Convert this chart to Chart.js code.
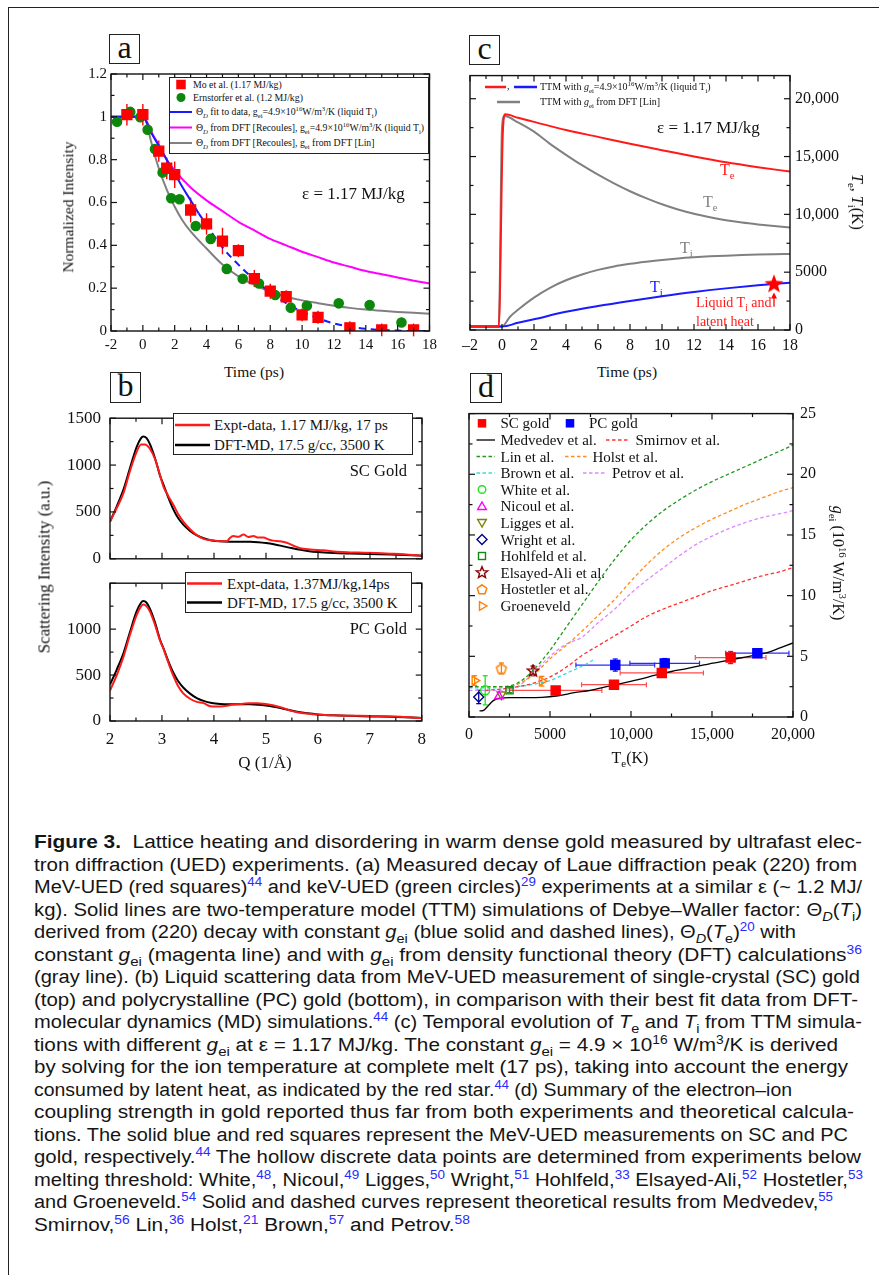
<!DOCTYPE html>
<html>
<head>
<meta charset="utf-8">
<title>Figure 3 - warm dense gold</title>
<script src="https://cdn.jsdelivr.net/npm/chart.js@4.4.1/dist/chart.umd.min.js"></script>
<style>
  html, body { margin: 0; padding: 0; background: #fff; }
  body { width: 879px; height: 1275px; position: relative; overflow: hidden; font-family: "Liberation Serif", serif; color: #111; }
  canvas { position: absolute; }
  .t { position: absolute; white-space: nowrap; line-height: 1; }
  .t sub, .t sup { font-size: 68%; line-height: 0; }
  .box { position: absolute; border: 1.2px solid #222; box-sizing: border-box; }
  .plabel { position: absolute; border: 1.6px solid #222; box-sizing: border-box; font-size: 32px; line-height: 24px; text-align: center; }
  #frame { position: absolute; left: 8px; top: 7px; width: 1000px; height: 1400px; border: 1.6px solid #222; }
  #overlay { position: absolute; left: 0; top: 0; }
  #cap { position: absolute; left: 34px; top: 831px; font-family: "Liberation Sans", sans-serif; font-size: 18px; line-height: 22.5px; color: #151515; }
  #cap .ln { display: block; width: max-content; white-space: nowrap; transform-origin: 0 0; }
  #cap sub { font-size: 13px; line-height: 0; }
  #cap sup { font-size: 12px; line-height: 0; }
  #cap .r { color: #2a2aff; font-size: 12px; position: relative; top: -7px; line-height: 0; }
</style>
</head>
<body>
<div id="frame"></div>

<div class="plabel" style="left:109px;top:34px;width:31px;height:30px;">a</div>
<div class="plabel" style="left:110px;top:372px;width:31px;height:31px;">b</div>
<div class="plabel" style="left:469px;top:35px;width:31px;height:30px;">c</div>
<div class="plabel" style="left:470px;top:373px;width:32px;height:30px;">d</div>

<div id="cap">
<span class="ln"><b>Figure 3.</b>&nbsp; Lattice heating and disordering in warm dense gold measured by ultrafast elec-</span>
<span class="ln">tron diffraction (UED) experiments. (a) Measured decay of Laue diffraction peak (220) from</span>
<span class="ln">MeV-UED (red squares)<span class="r">44</span> and keV-UED (green circles)<span class="r">29</span> experiments at a similar ε (~ 1.2 MJ/</span>
<span class="ln">kg). Solid lines are two-temperature model (TTM) simulations of Debye–Waller factor: Θ<sub><i>D</i></sub>(<i>T</i><sub>i</sub>)</span>
<span class="ln">derived from (220) decay with constant <i>g</i><sub>ei</sub> (blue solid and dashed lines), Θ<sub><i>D</i></sub>(<i>T</i><sub>e</sub>)<span class="r">20</span> with</span>
<span class="ln">constant <i>g</i><sub>ei</sub> (magenta line) and with <i>g</i><sub>ei</sub> from density functional theory (DFT) calculations<span class="r">36</span></span>
<span class="ln">(gray line). (b) Liquid scattering data from MeV-UED measurement of single-crystal (SC) gold</span>
<span class="ln">(top) and polycrystalline (PC) gold (bottom), in comparison with their best fit data from DFT-</span>
<span class="ln">molecular dynamics (MD) simulations.<span class="r">44</span> (c) Temporal evolution of <i>T</i><sub>e</sub> and <i>T</i><sub>i</sub> from TTM simula-</span>
<span class="ln">tions with different <i>g</i><sub>ei</sub> at ε = 1.17 MJ/kg. The constant <i>g</i><sub>ei</sub> = 4.9 × 10<sup>16</sup> W/m<sup>3</sup>/K is derived</span>
<span class="ln">by solving for the ion temperature at complete melt (17 ps), taking into account the energy</span>
<span class="ln">consumed by latent heat, as indicated by the red star.<span class="r">44</span> (d) Summary of the electron–ion</span>
<span class="ln">coupling strength in gold reported thus far from both experiments and theoretical calcula-</span>
<span class="ln">tions. The solid blue and red squares represent the MeV-UED measurements on SC and PC</span>
<span class="ln">gold, respectively.<span class="r">44</span> The hollow discrete data points are determined from experiments below</span>
<span class="ln">melting threshold: White,<span class="r">48</span>, Nicoul,<span class="r">49</span> Ligges,<span class="r">50</span> Wright,<span class="r">51</span> Hohlfeld,<span class="r">33</span> Elsayed-Ali,<span class="r">52</span> Hostetler,<span class="r">53</span></span>
<span class="ln">and Groeneveld.<span class="r">54</span> Solid and dashed curves represent theoretical results from Medvedev,<span class="r">55</span></span>
<span class="ln">Smirnov,<span class="r">56</span> Lin,<span class="r">36</span> Holst,<span class="r">21</span> Brown,<span class="r">57</span> and Petrov.<span class="r">58</span></span>
</div>

<script>
// ---------------- panel a : normalized (220) intensity ----------------
const aTicksX = [-2, 0, 2, 4, 6, 8, 10, 12, 14, 16, 18];
const aMinorX = [-1, 1, 3, 5, 7, 9, 11, 13, 15, 17];
const aTicksY = [0, 0.2, 0.4, 0.6, 0.8, 1, 1.2];
const aMinorY = [0.1, 0.3, 0.5, 0.7, 0.9, 1.1];

const moTime = [-1, 0, 1, 1.5, 2, 3, 4, 5, 6, 7, 8, 9, 10, 11, 13, 15, 17];
const moInt  = [1.01, 1.01, 0.84, 0.76, 0.73, 0.565, 0.50, 0.42, 0.375, 0.245, 0.186, 0.16, 0.075, 0.064, 0.015, 0.005, 0.005];
const moErr  = [0.05, 0.05, 0.05, 0.05, 0.062, 0.058, 0.05, 0.062, 0.03, 0.04, 0.035, 0.03, 0.03, 0.03, 0.03, 0.03, 0.03];

const ernTime = [-1.62, -0.79, -0.16, 0.30, 0.76, 1.24, 1.78, 2.30, 3.32, 4.26, 5.27, 6.27, 7.29, 8.31, 9.29, 10.3, 12.3, 14.24, 16.24];
const ernInt  = [0.977, 1.023, 0.998, 0.94, 0.85, 0.74, 0.62, 0.615, 0.49, 0.43, 0.29, 0.244, 0.222, 0.168, 0.109, 0.118, 0.129, 0.121, 0.04];

const fitTime = [-2, 0, 0.2, 0.5, 1, 1.5, 2, 2.5, 3, 3.5];
const fitInt  = [1, 1, 0.98, 0.93, 0.865, 0.80, 0.735, 0.67, 0.61, 0.55];
const fitTimeExt = [3.5, 4, 5, 6, 7, 8, 9, 10, 11, 12, 13, 14, 15, 16, 17, 18];
const fitIntExt  = [0.55, 0.495, 0.39, 0.31, 0.24, 0.18, 0.13, 0.09, 0.06, 0.035, 0.02, 0.01, 0.005, 0.002, 0, 0];

const recTime = [-2, 0, 0.3, 0.6, 1, 1.5, 2, 3, 4, 5, 6, 7, 8, 9, 10, 11, 12, 13, 14, 15, 16, 17, 18];
const recInt  = [1, 1, 0.97, 0.92, 0.87, 0.80, 0.75, 0.67, 0.61, 0.56, 0.51, 0.47, 0.43, 0.40, 0.37, 0.345, 0.32, 0.30, 0.28, 0.265, 0.25, 0.235, 0.222];

const linTime = [-2, 0, 0.2, 0.5, 1, 1.5, 2, 2.5, 3, 4, 5, 6, 7, 8, 9, 10, 11, 12, 13, 14, 15, 16, 17, 18];
const linInt  = [1, 1, 0.98, 0.89, 0.76, 0.66, 0.58, 0.515, 0.465, 0.385, 0.31, 0.255, 0.215, 0.183, 0.16, 0.143, 0.13, 0.118, 0.108, 0.10, 0.094, 0.089, 0.085, 0.081];

// ---------------- panel b : liquid scattering ----------------
const bTicksX = [2, 3, 4, 5, 6, 7, 8];
const bMinorX = [2.5, 3.5, 4.5, 5.5, 6.5, 7.5];
const bTicksY = [0, 500, 1000, 1500];
const bTicksYLow = [0, 500, 1000];
const bMinorY = [250, 750, 1250];

const scQ = [2.00, 2.13, 2.26, 2.38, 2.51, 2.60, 2.67, 2.77, 2.87, 2.96, 3.03, 3.12, 3.22, 3.31, 3.41, 3.54, 3.67, 3.80, 3.96, 4.12, 4.25, 4.30, 4.37, 4.47, 4.57, 4.66, 4.76, 4.85, 4.95, 5.05, 5.14, 5.27, 5.40, 5.53, 5.66, 5.85, 6.11, 6.36, 6.62, 6.88, 7.13, 7.39, 7.65, 8.00];
const scExpt = [397, 542, 703, 929, 1139, 1219, 1219, 1171, 1058, 897, 768, 671, 574, 477, 397, 316, 252, 213, 197, 187, 187, 219, 242, 235, 258, 232, 242, 226, 226, 206, 194, 187, 171, 139, 113, 100, 90, 74, 68, 65, 61, 55, 48, 32];

const pcQ = [2.00, 2.13, 2.26, 2.38, 2.51, 2.60, 2.64, 2.70, 2.77, 2.87, 2.96, 3.03, 3.12, 3.22, 3.31, 3.41, 3.54, 3.67, 3.80, 3.93, 4.05, 4.18, 4.30, 4.44, 4.57, 4.69, 4.82, 4.95, 5.08, 5.21, 5.34, 5.47, 5.60, 5.72, 5.90, 6.04, 6.30, 6.56, 7.00, 7.27, 7.60, 8.00];
const pcExpt = [332, 500, 700, 930, 1150, 1250, 1268, 1250, 1190, 1040, 880, 784, 640, 490, 380, 300, 242, 208, 195, 161, 157, 161, 172, 181, 189, 194, 192, 187, 178, 161, 140, 113, 95, 84, 74, 68, 62, 58, 55, 52, 45, 32];

const dftQ = [2.00, 2.13, 2.26, 2.38, 2.51, 2.60, 2.64, 2.70, 2.77, 2.87, 2.96, 3.03, 3.12, 3.22, 3.31, 3.41, 3.54, 3.67, 3.80, 3.96, 4.12, 4.30, 4.50, 4.70, 4.85, 5.00, 5.15, 5.30, 5.45, 5.60, 5.80, 6.00, 6.30, 6.60, 7.00, 7.40, 7.80, 8.00];
const dftI = [397, 560, 740, 960, 1190, 1290, 1306, 1290, 1220, 1065, 890, 790, 655, 525, 435, 365, 298, 249, 219, 196, 186, 183, 183, 182, 177, 168, 155, 138, 119, 101, 84, 72, 62, 56, 50, 45, 38, 33];

// ---------------- panel c : TTM temperatures ----------------
const cTicksX = [-2, 0, 2, 4, 6, 8, 10, 12, 14, 16, 18];
const cMinorX = [-1, 1, 3, 5, 7, 9, 11, 13, 15, 17];
const cTicksY = [0, 5000, 10000, 15000, 20000];
const cMinorY = [2500, 7500, 12500, 17500];

const teTime  = [-2, -0.2, 0.05, 0.2, 1, 2, 4, 6, 8, 10, 12, 14, 16, 18];
const teConst = [300, 300, 17000, 18650, 18350, 18000, 17300, 16700, 16100, 15550, 15000, 14500, 14080, 13700];
const tiTime  = [-2, 0, 1, 2, 4, 6, 8, 10, 12, 14, 16, 18];
const tiConst = [300, 300, 620, 930, 1570, 2070, 2510, 2920, 3290, 3600, 3860, 4086];

const teDftTime = [-2, -0.2, 0, 0.15, 1, 2, 3, 4, 5, 6, 7, 8, 9, 10, 11, 12, 13, 14, 15, 16, 17, 18];
const teDft     = [300, 300, 17500, 18500, 17950, 17150, 16100, 15150, 14250, 13430, 12680, 12000, 11400, 10870, 10420, 10050, 9750, 9490, 9290, 9130, 8990, 8860];
const tiDftTime = [-2, 0, 0.5, 1, 2, 3, 4, 5, 6, 7, 8, 9, 10, 11, 12, 13, 14, 15, 16, 17, 18];
const tiDft     = [300, 300, 1150, 1750, 2800, 3650, 4300, 4800, 5200, 5500, 5720, 5900, 6060, 6190, 6290, 6370, 6430, 6480, 6520, 6550, 6570];

const meltTime = [17];
const meltTi   = [3950];

// ---------------- panel d : electron-ion coupling ----------------
const dTicksX = [0, 5000, 10000, 15000, 20000];
const dMinorX = [2500, 7500, 12500, 17500];
const dTicksY = [0, 5, 10, 15, 20, 25];
const dMinorY = [2.5, 7.5, 12.5, 17.5, 22.5];

const scTe = [5350, 8950, 11900, 16150];
const scG = [2.19, 2.66, 3.63, 4.9];
const scTeErr = [2850, 2000, 2570, 2180];
const scGErr = [0.12, 0.2, 0.35, 0.5];

const pcTe = [9030, 12080, 17800];
const pcG = [4.28, 4.42, 5.26];
const pcTeErr = [2430, 2150, 1950];
const pcGErr = [0.5, 0.4, 0.3];

const whiteTe = [1000], whiteG = [2.2], whiteErr = [1.2];
const nicoulTe = [1850], nicoulG = [1.7];
const liggesTe = [2000], liggesG = [1.85];
const wrightTe = [600], wrightG = [1.65], wrightErr = [0.55];
const hohlfeldTe = [2500], hohlfeldG = [2.2], hohlfeldErr = [0.2];
const elsayedTe = [3950], elsayedG = [3.8], elsayedErr = [0.4];
const hostetlerTe = [2000], hostetlerG = [4.0], hostetlerErr = [0.45];
const groenTe = [350, 4500], groenG = [3.0, 2.95], groenErr = [0.4, 0.4];

const medTe = [650, 900, 1200, 1500, 1900, 2500, 3500, 4500, 5500, 6500, 7500, 8500, 9500, 10500, 11500, 12500, 13500, 14500, 15500, 16500, 17500, 18500, 19200, 20000];
const medG  = [0.5, 0.55, 0.95, 1.35, 1.55, 1.6, 1.6, 1.62, 1.75, 2.0, 2.2, 2.5, 2.8, 3.1, 3.45, 3.75, 4.0, 4.3, 4.55, 4.8, 5.05, 5.35, 5.7, 6.1];
const thTe = [0, 1000, 2000, 3000, 4000, 5000, 6000, 7000, 8000, 9000, 10000, 11000, 12000, 13000, 14000, 15000, 16000, 17000, 18000, 19000, 20000];
const linG    = [2.5, 2.5, 2.5, 2.8, 3.9, 5.5, 7.4, 9.3, 11.2, 13.0, 14.6, 15.9, 17.0, 17.9, 18.7, 19.4, 20.0, 20.6, 21.2, 21.8, 22.4];
const holstG  = [2.5, 2.5, 2.5, 2.7, 3.5, 4.8, 5.9, 7.1, 8.4, 9.7, 11.2, 12.6, 13.8, 14.8, 15.6, 16.3, 16.9, 17.5, 18.0, 18.5, 18.9];
const petrovG = [2.2, 2.2, 2.2, 2.5, 3.7, 5.0, 6.0, 6.6, 7.8, 8.9, 10.2, 11.3, 12.3, 13.3, 14.2, 14.9, 15.5, 16.0, 16.4, 16.7, 17.0];
const smirnovTe = [1000, 2000, 3000, 4000, 5000, 6000, 7000, 8000, 9000, 10000, 11000, 12000, 13000, 14000, 15000, 16000, 17000, 18000, 19000, 20000];
const smirnovG  = [2.2, 2.3, 2.5, 2.8, 3.3, 4.1, 5.1, 5.9, 6.7, 7.5, 8.3, 8.9, 9.4, 9.9, 10.4, 10.8, 11.2, 11.6, 11.9, 12.3];
const brownTe = [0, 1000, 2000, 3000, 4000, 5000, 6000, 7000, 7800];
const brownG  = [2.4, 2.4, 2.4, 2.5, 2.7, 3.0, 3.6, 4.2, 4.8];

// ---------------- helpers ----------------
Chart.defaults.font.family = 'Liberation Serif';
const pts = (xs, ys) => xs.map((x, i) => ({ x: x, y: ys[i] }));

function curve(xs, ys, color, width, dash) {
  return { data: pts(xs, ys), showLine: true, borderColor: color, backgroundColor: color,
    borderWidth: width, borderDash: dash || [], pointRadius: 0, tension: 0.4, cubicInterpolationMode: 'monotone' };
}
function marks(xs, ys, style, color, fill, r, extra) {
  return Object.assign({ data: pts(xs, ys), showLine: false, pointStyle: style, pointRadius: r,
    borderColor: color, pointBorderColor: color, pointBackgroundColor: fill, backgroundColor: fill, pointBorderWidth: 1.4 }, extra || {});
}
function shape(size, draw) {
  const c = document.createElement('canvas');
  c.width = c.height = size;
  draw(c.getContext('2d'), size / 2);
  return c;
}
function starPath(g, cx, cy, R, r) {
  g.beginPath();
  for (let i = 0; i < 10; i++) {
    const a = -Math.PI / 2 + i * Math.PI / 5, rr = i % 2 ? r : R;
    g.lineTo(cx + rr * Math.cos(a), cy + rr * Math.sin(a));
  }
  g.closePath();
}
function polyPath(g, cx, cy, R, n) {
  g.beginPath();
  for (let i = 0; i < n; i++) {
    const a = -Math.PI / 2 + i * 2 * Math.PI / n;
    g.lineTo(cx + R * Math.cos(a), cy + R * Math.sin(a));
  }
  g.closePath();
}
const redStar = shape(22, (g, c) => { starPath(g, c, c, 10, 4.2); g.fillStyle = '#ff0000'; g.fill(); });
const hollowStar = shape(14, (g, c) => { starPath(g, c, c, 6, 2.6); g.strokeStyle = '#8b0000'; g.lineWidth = 1.4; g.stroke(); });
const hollowPenta = shape(14, (g, c) => { polyPath(g, c, c + 0.5, 5.2, 5); g.strokeStyle = '#ff7f00'; g.lineWidth = 1.5; g.stroke(); });

function axis(pos, min, max, ticks, o) {
  const horiz = pos === 'top' || pos === 'bottom';
  return {
    type: 'linear', position: pos, min: min, max: max,
    afterBuildTicks: s => { s.ticks = ticks.map(v => ({ value: v })); },
    afterFit: s => { if (horiz) s.height = o.size; else s.width = o.size; },
    grid: { display: false, drawTicks: false },
    border: { display: false },
    ticks: {
      display: o.labels !== false, autoSkip: false, maxRotation: 0, minRotation: 0,
      padding: o.pad || 5, color: '#111',
      font: { family: 'Liberation Serif', size: o.font || 15 },
      callback: o.fmt || (v => String(v))
    }
  };
}
const thousands = v => v >= 10000 ? v.toLocaleString('en-US') : String(v);
const dashMinus = v => v < 0 ? '\u2013' + (-v) : String(v);

// frame around the plot area with inward major / minor ticks on all four sides
const framePlugin = {
  id: 'frame',
  afterDraw(chart, args, o) {
    const { ctx, chartArea: a } = chart;
    const xs = chart.scales.x, ys = chart.scales.y;
    ctx.save();
    ctx.strokeStyle = '#111';
    ctx.lineWidth = 1.4;
    ctx.strokeRect(a.left, a.top, a.right - a.left, a.bottom - a.top);
    ctx.lineWidth = 1.2;
    const seg = (x1, y1, x2, y2) => { ctx.beginPath(); ctx.moveTo(x1, y1); ctx.lineTo(x2, y2); ctx.stroke(); };
    const doX = (vals, len) => (vals || []).forEach(v => {
      const p = xs.getPixelForValue(v);
      seg(p, a.bottom, p, a.bottom - len); seg(p, a.top, p, a.top + len);
    });
    const doY = (vals, len) => (vals || []).forEach(v => {
      const p = ys.getPixelForValue(v);
      seg(a.left, p, a.left + len, p); seg(a.right, p, a.right - len, p);
    });
    doX(o.xMajor, 6); doX(o.xMinor, 3.5);
    doY(o.yMajor, 6); doY(o.yMinor, 3.5);
    ctx.restore();
  }
};

// error bars taken from errX / errY arrays on a dataset
const errPlugin = {
  id: 'errbars',
  beforeDatasetsDraw(chart) {
    const ctx = chart.ctx, xs = chart.scales.x, ys = chart.scales.y;
    chart.data.datasets.forEach(ds => {
      if (!ds.errX && !ds.errY) return;
      ctx.save();
      ctx.lineWidth = ds.errWidth || 1.3;
      const seg = (x1, y1, x2, y2) => { ctx.beginPath(); ctx.moveTo(x1, y1); ctx.lineTo(x2, y2); ctx.stroke(); };
      const cap = ds.errCap || 0;
      ds.data.forEach((p, i) => {
        const px = xs.getPixelForValue(p.x), py = ys.getPixelForValue(p.y);
        if (ds.errX) {
          ctx.strokeStyle = ds.errColorX || ds.borderColor;
          const x1 = xs.getPixelForValue(p.x - ds.errX[i]), x2 = xs.getPixelForValue(p.x + ds.errX[i]);
          seg(x1, py, x2, py);
          if (cap) { seg(x1, py - cap, x1, py + cap); seg(x2, py - cap, x2, py + cap); }
        }
        if (ds.errY) {
          ctx.strokeStyle = ds.errColorY || ds.borderColor;
          const y1 = ys.getPixelForValue(p.y - ds.errY[i]), y2 = ys.getPixelForValue(p.y + ds.errY[i]);
          seg(px, y1, px, y2);
          if (cap) { seg(px - cap, y1, px + cap, y1); seg(px - cap, y2, px + cap, y2); }
        }
      });
      ctx.restore();
    });
  }
};

// small upward arrow in panel c pointing at the melt point
const arrowPlugin = {
  id: 'arrow',
  afterDatasetsDraw(chart, args, o) {
    if (!o || o.x === undefined) return;
    const ctx = chart.ctx, xs = chart.scales.x, ys = chart.scales.y;
    const px = xs.getPixelForValue(o.x), y1 = ys.getPixelForValue(o.from), y2 = ys.getPixelForValue(o.to);
    ctx.save();
    ctx.strokeStyle = o.color; ctx.fillStyle = o.color; ctx.lineWidth = 1.3;
    ctx.beginPath(); ctx.moveTo(px, y1); ctx.lineTo(px, y2 + 4); ctx.stroke();
    ctx.beginPath(); ctx.moveTo(px, y2); ctx.lineTo(px - 3, y2 + 6); ctx.lineTo(px + 3, y2 + 6); ctx.closePath(); ctx.fill();
    ctx.restore();
  }
};

function makeChart(plot, m, scales, datasets, pluginOpts) {
  const c = document.createElement('canvas');
  const w = plot.r - plot.l + m.L + m.R, h = plot.b - plot.t + m.T + m.B;
  c.width = w; c.height = h;
  c.style.left = (plot.l - m.L) + 'px'; c.style.top = (plot.t - m.T) + 'px';
  c.style.width = w + 'px'; c.style.height = h + 'px';
  document.body.appendChild(c);
  const yRight = scales.y.position === 'right';
  return new Chart(c, {
    type: 'scatter',
    data: { datasets: datasets },
    options: {
      responsive: false, animation: false, devicePixelRatio: 1, events: [],
      layout: { padding: { top: m.T, bottom: 0, left: yRight ? m.L : 0, right: yRight ? 0 : m.R } },
      scales: scales,
      plugins: Object.assign({ legend: { display: false }, tooltip: { enabled: false } }, pluginOpts)
    },
    plugins: [errPlugin, framePlugin, arrowPlugin]
  });
}

// ---------------- panel a ----------------
makeChart({ l: 111, t: 73, r: 430, b: 331 }, { L: 50, T: 12, R: 12, B: 30 }, {
  x: axis('bottom', -2, 18, aTicksX, { size: 30, font: 15, pad: 5 }),
  y: axis('left', 0, 1.2, aTicksY, { size: 50, font: 15, pad: 4 })
}, [
  marks(moTime, moInt, 'rect', '#ff0000', '#ff0000', 7, { errY: moErr, errWidth: 1.4 }),
  marks(ernTime, ernInt, 'circle', '#0b870b', '#0b870b', 4.6),
  curve(fitTime, fitInt, '#1a1aff', 2),
  curve(fitTimeExt, fitIntExt, '#1a1aff', 2, [7, 5]),
  curve(recTime, recInt, '#ff00ff', 2),
  curve(linTime, linInt, '#808080', 2)
], { frame: { xMajor: aTicksX, xMinor: aMinorX, yMajor: aTicksY, yMinor: aMinorY } });

// ---------------- panel b (two stacked charts) ----------------
makeChart({ l: 110, t: 411, r: 422, b: 566 }, { L: 60, T: 12, R: 12, B: 12 }, {
  x: axis('bottom', 2, 8, bTicksX, { size: 12, labels: false }),
  y: axis('left', 0, 1500, bTicksY, { size: 60, font: 17, pad: 9 })
}, [
  curve(scQ, scExpt, '#ff1a1a', 2),
  curve(dftQ, dftI, '#000000', 2)
], { frame: { xMajor: bTicksX, xMinor: bMinorX, yMajor: bTicksY, yMinor: bMinorY } });

makeChart({ l: 110, t: 566, r: 422, b: 721 }, { L: 60, T: 2, R: 12, B: 32 }, {
  x: axis('bottom', 2, 8, bTicksX, { size: 32, font: 17, pad: 8 }),
  y: axis('left', 0, 1500, bTicksYLow, { size: 60, font: 17, pad: 9 })
}, [
  curve(pcQ, pcExpt, '#ff1a1a', 2),
  curve(dftQ, dftI, '#000000', 2)
], { frame: { xMajor: bTicksX, xMinor: bMinorX, yMajor: bTicksY, yMinor: bMinorY } });

// ---------------- panel c ----------------
makeChart({ l: 470, t: 73, r: 790, b: 330 }, { L: 15, T: 12, R: 60, B: 30 }, {
  x: axis('bottom', -2, 18, cTicksX, { size: 30, font: 16, pad: 6, fmt: dashMinus }),
  y: axis('right', 0, 22000, cTicksY, { size: 60, font: 16, pad: 5, fmt: thousands })
}, [
  marks(meltTime, meltTi, redStar, '#ff0000', '#ff0000', 10),
  curve(teTime, teConst, '#ff1a1a', 2),
  curve(tiTime, tiConst, '#1a1aff', 2),
  curve(teDftTime, teDft, '#808080', 2),
  curve(tiDftTime, tiDft, '#808080', 2)
], {
  frame: { xMajor: cTicksX, xMinor: cMinorX, yMajor: cTicksY, yMinor: cMinorY },
  arrow: { x: 17, from: 2000, to: 3250, color: '#ff0000' }
});

// ---------------- panel d ----------------
const dash = [3.5, 2.5];
makeChart({ l: 469, t: 409, r: 793, b: 717 }, { L: 15, T: 12, R: 45, B: 32 }, {
  x: axis('bottom', 0, 20000, dTicksX, { size: 32, font: 16, pad: 8, fmt: thousands }),
  y: axis('right', 0, 25, dTicksY, { size: 45, font: 16, pad: 7 })
}, [
  marks(scTe, scG, 'rect', '#ff0000', '#ff0000', 6.4, { errX: scTeErr, errY: scGErr, errCap: 2.5, errColorX: '#ff4d4d', errWidth: 1.2 }),
  marks(pcTe, pcG, 'rect', '#0000ff', '#0000ff', 6.4, { errX: pcTeErr, errY: pcGErr, errCap: 2.5, errColorX: '#2a2aff', errWidth: 1.2 }),
  marks(whiteTe, whiteG, 'circle', '#22e022', 'rgba(0,0,0,0)', 4.5, { errY: whiteErr, errCap: 2.5 }),
  marks(nicoulTe, nicoulG, 'triangle', '#ff00ff', 'rgba(0,0,0,0)', 5),
  marks(liggesTe, liggesG, 'triangle', '#808000', 'rgba(0,0,0,0)', 5, { rotation: 180 }),
  marks(wrightTe, wrightG, 'rectRot', '#000090', 'rgba(0,0,0,0)', 5, { errY: wrightErr, errCap: 2.5 }),
  marks(hohlfeldTe, hohlfeldG, 'rect', '#118811', 'rgba(0,0,0,0)', 5, { errY: hohlfeldErr, errCap: 2.5 }),
  marks(elsayedTe, elsayedG, hollowStar, '#8b0000', 'rgba(0,0,0,0)', 6, { errY: elsayedErr, errCap: 2.5 }),
  marks(hostetlerTe, hostetlerG, hollowPenta, '#ff7f00', 'rgba(0,0,0,0)', 6, { errY: hostetlerErr, errCap: 2.5 }),
  marks(groenTe, groenG, 'triangle', '#ff7f00', 'rgba(0,0,0,0)', 5, { rotation: 90, errY: groenErr, errCap: 2.5 }),
  curve(medTe, medG, '#000000', 1.3),
  curve(smirnovTe, smirnovG, '#ff3030', 1.3, dash),
  curve(thTe, linG, '#1f9a1f', 1.3, dash),
  curve(thTe, holstG, '#ff8c1a', 1.3, dash),
  curve(brownTe, brownG, '#33dede', 1.3, dash),
  curve(thTe, petrovG, '#dd88ff', 1.3, dash)
], { frame: { xMajor: dTicksX, xMinor: dMinorX, yMajor: dTicksY, yMinor: dMinorY } });

// ---------------- text overlays ----------------
function put(html, x, y, o) {
  o = o || {};
  const d = document.createElement('div');
  d.className = 't';
  d.innerHTML = html;
  d.style.left = x + 'px'; d.style.top = y + 'px';
  d.style.fontSize = (o.size || 15) + 'px';
  if (o.color) d.style.color = o.color;
  let tr = 'translate(' + (o.align === 'c' ? '-50%' : o.align === 'r' ? '-100%' : '0') + ',-50%)';
  if (o.rot) tr = 'translate(-50%,-50%) rotate(' + o.rot + 'deg)';
  d.style.transform = tr;
  document.body.appendChild(d);
  return d;
}
function box(l, t, w, h) {
  const d = document.createElement('div');
  d.className = 'box';
  Object.assign(d.style, { left: l + 'px', top: t + 'px', width: w + 'px', height: h + 'px', background: '#fff' });
  document.body.appendChild(d);
}

// legend symbols drawn in one svg layer
const SVGNS = 'http://www.w3.org/2000/svg';
const svg = document.createElementNS(SVGNS, 'svg');
svg.setAttribute('id', 'overlay'); svg.setAttribute('width', 879); svg.setAttribute('height', 1275);
function el(tag, attrs) {
  const e = document.createElementNS(SVGNS, tag);
  for (const k in attrs) e.setAttribute(k, attrs[k]);
  svg.appendChild(e);
}
const sLine = (x1, x2, y, color, w, da) => el('line', { x1: x1, x2: x2, y1: y, y2: y, stroke: color, 'stroke-width': w, 'stroke-dasharray': da || 'none' });
const sRect = (cx, cy, s, color, fill, w) => el('rect', { x: cx - s / 2, y: cy - s / 2, width: s, height: s, fill: fill, stroke: color, 'stroke-width': w || 0 });
const sCircle = (cx, cy, r, color, fill, w) => el('circle', { cx: cx, cy: cy, r: r, fill: fill, stroke: color, 'stroke-width': w || 0 });
const sPoly = (cx, cy, R, n, rot, color, w) => {
  const p = [];
  for (let i = 0; i < n; i++) { const a = (rot - 90 + i * 360 / n) * Math.PI / 180; p.push((cx + R * Math.cos(a)).toFixed(2) + ',' + (cy + R * Math.sin(a)).toFixed(2)); }
  el('polygon', { points: p.join(' '), fill: 'none', stroke: color, 'stroke-width': w });
};
const sStar = (cx, cy, R, r, color, fill, w) => {
  const p = [];
  for (let i = 0; i < 10; i++) { const a = -Math.PI / 2 + i * Math.PI / 5, rr = i % 2 ? r : R; p.push((cx + rr * Math.cos(a)).toFixed(2) + ',' + (cy + rr * Math.sin(a)).toFixed(2)); }
  el('polygon', { points: p.join(' '), fill: fill, stroke: color, 'stroke-width': w });
};

// panel a legend
box(169, 77, 260, 77);
const gei = 'g<sub>ei</sub>';
const aLeg = [
  'Mo et al. (1.17 MJ/kg)',
  'Ernstorfer et al. (1.2 MJ/kg)',
  'Θ<sub><i>D</i></sub> fit to data, ' + gei + '=4.9×10<sup>16</sup>W/m<sup>3</sup>/K (liquid T<sub>i</sub>)',
  'Θ<sub><i>D</i></sub> from DFT [Recoules], ' + gei + '=4.9×10<sup>16</sup>W/m<sup>3</sup>/K (liquid T<sub>i</sub>)',
  'Θ<sub><i>D</i></sub> from DFT [Recoules], ' + gei + ' from DFT [Lin]'
];
const aRows = [84.5, 97.5, 112, 127.5, 143];
put(aLeg[0], 193, aRows[0], { size: 9.8 });
put(aLeg[1], 193, aRows[1], { size: 9.8 });
put(aLeg[2], 196, aRows[2], { size: 9.8 });
put(aLeg[3], 196, aRows[3], { size: 9.8 });
put(aLeg[4], 196, aRows[4], { size: 9.8 });
put('ε = 1.17 MJ/kg', 302, 193, { size: 17 });
put('Normalized Intensity', 68, 207, { size: 15.5, rot: -90 });
put('Time (ps)', 254, 372, { size: 15.5, align: 'c' });

// panel b legends and labels
box(173, 413, 240, 42);
box(185, 572, 227, 41);
put('Expt-data, 1.17 MJ/kg, 17 ps', 214, 425, { size: 15 });
put('DFT-MD, 17.5 g/cc, 3500 K', 214, 445, { size: 15 });
put('Expt-data, 1.37MJ/kg,14ps', 227, 583.5, { size: 15 });
put('DFT-MD, 17.5 g/cc, 3500 K', 227, 602.5, { size: 15 });
put('SC Gold', 407, 471, { size: 16.5, align: 'r' });
put('PC Gold', 407, 629, { size: 16.5, align: 'r' });
put('Scattering Intensity (a.u.)', 44, 567, { size: 17, rot: -90 });
put('Q (1/Å)', 265, 762, { size: 17, align: 'c' });

// panel c legend and labels
put(',', 507, 86, { size: 10 });
put('TTM with <i>g</i><sub>ei</sub>=4.9×10<sup>16</sup>W/m<sup>3</sup>/K (liquid T<sub>i</sub>)', 540, 86.7, { size: 10 });
put('TTM with <i>g</i><sub>ei</sub> from DFT [Lin]', 540, 101.7, { size: 10 });
put('ε = 1.17 MJ/kg', 657, 127, { size: 17 });
put('T<sub>e</sub>', 720, 170, { size: 16, color: '#ff1a1a' });
put('T<sub>e</sub>', 703, 202, { size: 16, color: '#808080' });
put('T<sub>i</sub>', 680, 248, { size: 16, color: '#808080' });
put('T<sub>i</sub>', 650, 287, { size: 16, color: '#1a1aff' });
put('Liquid T<sub>i</sub> and', 696, 303, { size: 14, color: '#ff1a1a' });
put('latent heat', 696, 322, { size: 14, color: '#ff1a1a' });
put('Time (ps)', 627, 372, { size: 15.5, align: 'c' });
put('<i>T</i><sub>e</sub>, <i>T</i><sub>i</sub>(K)', 857, 202, { size: 16, rot: 90 });

// panel d legend and labels
const dRows = [423.3, 440, 456.5, 473, 489.5, 506, 523, 539.5, 556, 572.7, 589.3, 606];
const dLeft = ['SC gold', 'Medvedev et al.', 'Lin et al.', 'Brown et al.', 'White et al.', 'Nicoul et al.', 'Ligges et al.',
  'Wright et al.', 'Hohlfeld et al.', 'Elsayed-Ali et al.', 'Hostetler et al.', 'Groeneveld'];
dLeft.forEach((s, i) => put(s, 500.5, dRows[i], { size: 15 }));
put('PC gold', 589, dRows[0], { size: 15 });
put('Smirnov et al.', 635.5, dRows[1], { size: 15 });
put('Holst et al.', 592.5, dRows[2], { size: 15 });
put('Petrov et al.', 612, dRows[3], { size: 15 });
put('T<sub>e</sub>(K)', 630, 758, { size: 16, align: 'c' });
put('<i>g</i><sub>ei</sub> (10<sup>16</sup> W/m<sup>3</sup>/K)', 838, 563, { size: 16, rot: 90 });

// svg legend markers
sRect(181, aRows[0], 9.5, 'none', '#ff0000');
sCircle(181, aRows[1], 4.5, 'none', '#0b870b');
sLine(170, 192, aRows[2], '#1a1aff', 2);
sLine(170, 192, aRows[3], '#ff00ff', 2);
sLine(170, 192, aRows[4], '#808080', 2);

sLine(175, 210, 425, '#ff1a1a', 2.5);
sLine(175, 210, 445, '#000', 2.5);
sLine(187, 222, 583.5, '#ff1a1a', 2.5);
sLine(187, 222, 602.5, '#000', 2.5);

sLine(485, 506, 87, '#ff1a1a', 2.5);
sLine(514, 537, 87, '#1a1aff', 2.5);
sLine(497, 520, 102, '#808080', 2.5);

sRect(482, dRows[0], 8.5, 'none', '#ff0000');
sRect(570, dRows[0], 8.5, 'none', '#0000ff');
sLine(476.5, 495, dRows[1], '#000', 1.3);
sLine(606, 630, dRows[1], '#ff3030', 1.3, '3.5,2.5');
sLine(476.5, 495, dRows[2], '#1f9a1f', 1.3, '3.5,2.5');
sLine(565, 587, dRows[2], '#ff8c1a', 1.3, '3.5,2.5');
sLine(476.5, 495, dRows[3], '#33dede', 1.3, '3.5,2.5');
sLine(583, 606, dRows[3], '#dd88ff', 1.3, '3.5,2.5');
sCircle(482, dRows[4], 3.8, '#22e022', 'none', 1.4);
sPoly(482, dRows[5] + 1, 5, 3, 0, '#ff00ff', 1.4);
sPoly(482, dRows[6] - 1, 5, 3, 180, '#808000', 1.4);
sPoly(482, dRows[7], 5, 4, 0, '#000090', 1.4);
sRect(482, dRows[8], 7, '#118811', 'none', 1.4);
sStar(482, dRows[9], 6, 2.6, '#8b0000', 'none', 1.4);
sPoly(482, dRows[10] + 0.5, 5, 5, 0, '#ff7f00', 1.5);
sPoly(482, dRows[11], 5, 3, 90, '#ff7f00', 1.4);

document.body.appendChild(svg);

// caption: condense each line so that it ends where it ends in the printed figure
const capLineEnds = [862, 857, 862, 862, 796, 862, 860, 858, 862, 838, 848, 792, 854, 848, 861, 863, 833, 470];
document.querySelectorAll('#cap .ln').forEach((ln, i) => {
  const natural = ln.getBoundingClientRect().width;
  ln.style.transform = 'scaleX(' + ((capLineEnds[i] - 34) / natural).toFixed(4) + ')';
});
</script>
</body>
</html>
